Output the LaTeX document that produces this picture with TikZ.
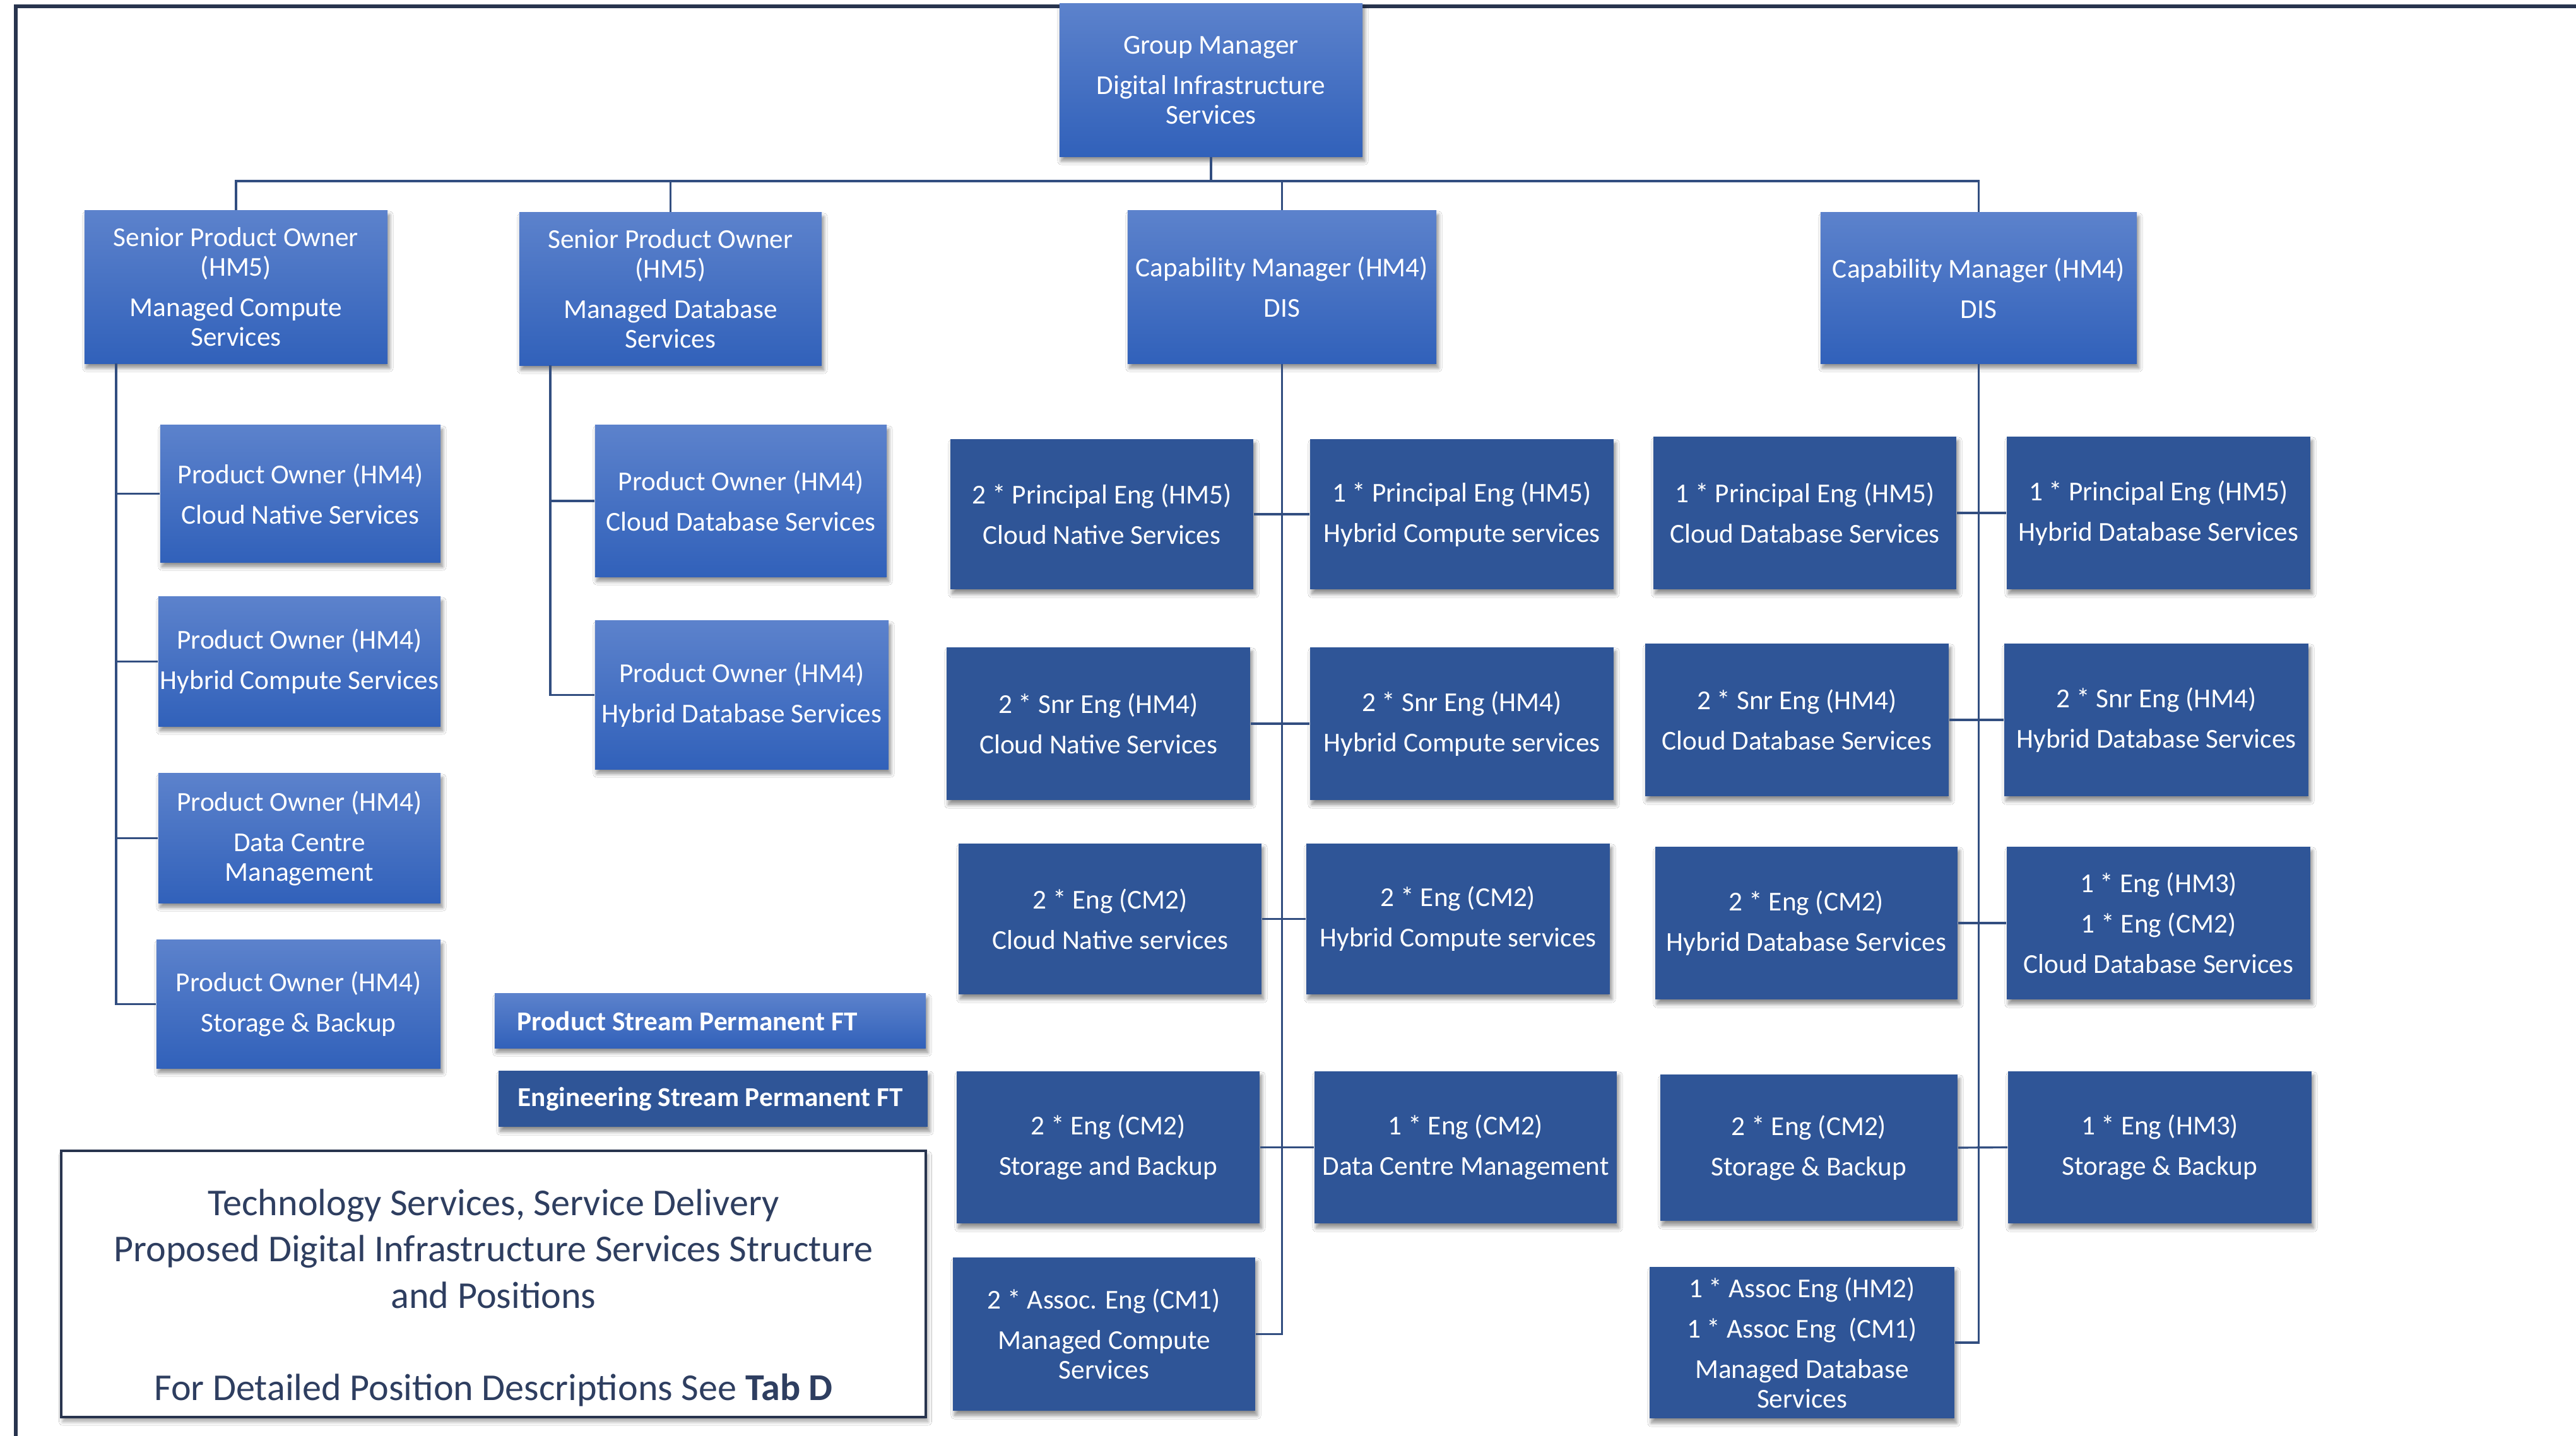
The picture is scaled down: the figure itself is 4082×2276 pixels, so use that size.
\documentclass[tikz,border=0pt]{standalone}
\usepackage{fontspec}
\setmainfont{Carlito}
\usetikzlibrary{shadows.blur,calc}
\definecolor{gtop}{RGB}{92,130,204}
\definecolor{gbot}{RGB}{49,97,186}
\definecolor{eng}{RGB}{47,85,151}
\definecolor{lnc}{RGB}{50,78,128}
\definecolor{frm}{RGB}{40,52,78}
\definecolor{ttl}{RGB}{46,62,96}
\newcommand\parbrk{\\[4.8pt]}
\newcommand\bx[7]{%
 \pgfmathsetmacro\bxcx{(#3+#5)/2}%
 \pgfmathsetmacro\bxcy{(#4+#6)/2}%
 \pgfmathsetmacro\bxw{(#5-#3)/100}%
 \pgfmathsetmacro\bxh{(#6-#4)/100}%
 \node[#1, minimum width=\bxw cm, minimum height=\bxh cm] (#2) at (\bxcx,\bxcy) {#7};}
\tikzset{
 base/.style={rectangle, inner sep=0pt, align=center, text=white,
   font={\fontsize{12.3}{13.4}\selectfont},
   blur shadow={shadow xshift=0.03cm, shadow yshift=-0.07cm, shadow blur radius=0.06cm, shadow blur steps=6, shadow opacity=45}},
 pbox/.style={base, top color=gtop, bottom color=gbot},
 ebox/.style={base, fill=eng},
 conn/.style={draw=lnc, line width=0.9pt},
 frame/.style={draw=frm, line width=1.5pt},
}
\begin{document}
\begin{tikzpicture}[x=0.01cm, y=-0.01cm]
\fill[white] (0,0) rectangle (4082,2276);
\useasboundingbox (0,0) rectangle (4082,2276);
% frame
\coordinate (ftl) at (25,10);
\coordinate (fbl) at (25,2276);
\coordinate (ftr) at (4082,10);
\draw[frame] (fbl) -- (ftl) -- (ftr);
% management
\bx{pbox}{GM}{1679}{6}{2159}{248}{Group Manager\parbrk Digital Infrastructure\\Services}
\bx{pbox}{SPO1}{134}{334}{614}{576}{Senior Product Owner\\(HM5)\parbrk Managed Compute\\Services}
\bx{pbox}{SPO2}{823}{337}{1302}{579}{Senior Product Owner\\(HM5)\parbrk Managed Database\\Services}
\bx{pbox}{CM1}{1787}{334}{2276}{576}{Capability Manager (HM4)\parbrk DIS}
\bx{pbox}{CM2}{2885}{337}{3386}{576}{Capability Manager (HM4)\parbrk DIS}
% product owners
\bx{pbox}{PO1}{254}{674}{698}{891}{Product Owner (HM4)\parbrk Cloud Native Services}
\bx{pbox}{PO2}{251}{946}{698}{1151}{Product Owner (HM4)\parbrk Hybrid Compute Services}
\bx{pbox}{PO3}{251}{1226}{698}{1431}{Product Owner (HM4)\parbrk Data Centre\\Management}
\bx{pbox}{PO4}{248}{1490}{698}{1693}{Product Owner (HM4)\parbrk Storage \& Backup}
\bx{pbox}{PO5}{943}{674}{1405}{914}{Product Owner (HM4)\parbrk Cloud Database Services}
\bx{pbox}{PO6}{943}{984}{1408}{1219}{Product Owner (HM4)\parbrk Hybrid Database Services}
% engineers column 1
\bx{ebox}{E1}{1506}{696}{1986}{934}{2 * Principal Eng (HM5)\parbrk Cloud Native Services}
\bx{ebox}{E2}{2076}{696}{2557}{934}{1 * Principal Eng (HM5)\parbrk Hybrid Compute services}
\bx{ebox}{E3}{1500}{1026}{1981}{1268}{2 * Snr Eng (HM4)\parbrk Cloud Native Services}
\bx{ebox}{E4}{2076}{1026}{2557}{1268}{2 * Snr Eng (HM4)\parbrk Hybrid Compute services}
\bx{ebox}{E5}{1519}{1337}{1999}{1576}{2 * Eng (CM2)\parbrk Cloud Native services}
\bx{ebox}{E6}{2070}{1337}{2551}{1576}{2 * Eng (CM2)\parbrk Hybrid Compute services}
\bx{ebox}{E7}{1516}{1698}{1996}{1939}{2 * Eng (CM2)\parbrk Storage and Backup}
\bx{ebox}{E8}{2083}{1698}{2562}{1939}{1 * Eng (CM2)\parbrk Data Centre Management}
\bx{ebox}{E9}{1510}{1993}{1989}{2236}{2 * Assoc. Eng (CM1)\parbrk Managed Compute\\Services}
% engineers column 2
\bx{ebox}{E10}{2620}{692}{3100}{934}{1 * Principal Eng (HM5)\parbrk Cloud Database Services}
\bx{ebox}{E11}{3180}{692}{3661}{934}{1 * Principal Eng (HM5)\parbrk Hybrid Database Services}
\bx{ebox}{E12}{2607}{1020}{3088}{1262}{2 * Snr Eng (HM4)\parbrk Cloud Database Services}
\bx{ebox}{E13}{3176}{1020}{3658}{1262}{2 * Snr Eng (HM4)\parbrk Hybrid Database Services}
\bx{ebox}{E14}{2623}{1342}{3102}{1584}{2 * Eng (CM2)\parbrk Hybrid Database Services}
\bx{ebox}{E15}{3180}{1342}{3661}{1584}{1 * Eng (HM3)\parbrk 1 * Eng (CM2)\parbrk Cloud Database Services}
\bx{ebox}{E16}{2631}{1703}{3102}{1935}{2 * Eng (CM2)\parbrk Storage \& Backup}
\bx{ebox}{E17}{3182}{1698}{3663}{1939}{1 * Eng (HM3)\parbrk Storage \& Backup}
\bx{ebox}{E18}{2614}{2008}{3097}{2248}{1 * Assoc Eng (HM2)\parbrk 1 * Assoc Eng~~(CM1)\parbrk Managed Database\\Services}
% legend boxes
\node[pbox, font={\fontsize{12.3}{13.4}\selectfont\bfseries}, minimum width=6.83cm, minimum height=0.86cm,
  inner xsep=0.36cm] (PSP) at (1125.5,1618) {\makebox[6.11cm][l]{Product Stream Permanent FT}};
\node[ebox, font={\fontsize{12.3}{13.4}\selectfont\bfseries}, minimum width=6.80cm, minimum height=0.89cm,
  inner xsep=0.31cm] (ESP) at (1130,1741.5) {\makebox[6.18cm][l]{Engineering Stream Permanent FT}};
% title box
\node[draw=frm, line width=1.1pt, fill=white, inner sep=0pt,
  blur shadow={shadow xshift=0.03cm, shadow yshift=-0.07cm, shadow blur radius=0.06cm, shadow blur steps=6, shadow opacity=35},
  minimum width=13.70cm, minimum height=4.22cm] (title) at (782,2035) {};
\node[text=ttl, font={\fontsize{17.1}{20.8}\selectfont}, align=center, inner sep=0pt] (titletxt) at (782,2057)
  {Technology Services, Service Delivery\\Proposed Digital Infrastructure Services Structure\\and Positions\\[20.8pt]For Detailed Position Descriptions See \textbf{Tab D}};
% connectors: top bus
\coordinate (bus) at (0,287);
\draw[conn] (SPO1.north) -- (SPO1.north |- bus) -- (CM2.north |- bus) -- (CM2.north);
\draw[conn] (SPO2.north) -- (SPO2.north |- bus);
\draw[conn] (CM1.north) -- (CM1.north |- bus);
\draw[conn] (GM.south) -- (GM.south |- bus);
% product owner spines
\coordinate (sp1) at (184,576);
\draw[conn] (sp1) |- (PO4.west);
\foreach \n in {PO1,PO2,PO3} \draw[conn] (\n.west) -- (\n.west -| sp1);
\coordinate (sp2) at (872,579);
\draw[conn] (sp2) |- (PO6.west);
\draw[conn] (PO5.west) -- (PO5.west -| sp2);
% engineering spines
\draw[conn] (CM1.south) |- (E9.east);
\foreach \a/\b in {E1/E2,E3/E4,E5/E6,E7/E8} \draw[conn] (\a.east) -- (\b.west);
\draw[conn] (CM2.south) |- (E18.east);
\foreach \a/\b in {E10/E11,E12/E13,E14/E15,E16/E17} \draw[conn] (\a.east) -- (\b.west);
\end{tikzpicture}
\end{document}
